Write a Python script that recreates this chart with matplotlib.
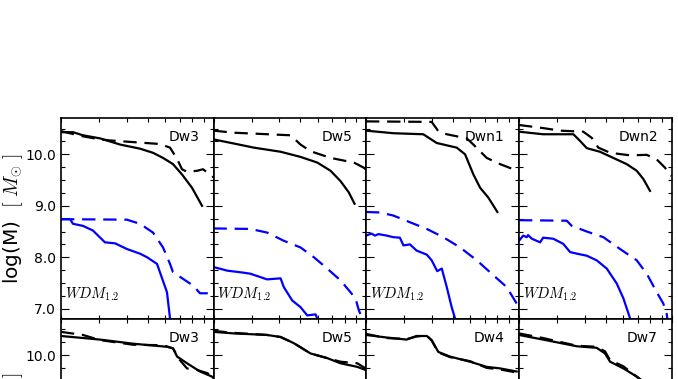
import matplotlib
matplotlib.use("Agg")
import matplotlib.pyplot as plt
from matplotlib.ticker import MultipleLocator, FixedLocator, NullFormatter, NullLocator, FuncFormatter

plt.rcParams['mathtext.fontset'] = 'cm'
plt.rcParams['xtick.direction'] = 'in'
plt.rcParams['ytick.direction'] = 'in'
plt.rcParams['xtick.top'] = True
plt.rcParams['ytick.right'] = True
plt.rcParams['font.size'] = 10

# ---- top row (CDM black, WDM_1.2 blue; solid / dashed) ----
top_names = ["Dw3", "Dw5", "Dwn1", "Dwn2"]

dw3_k_x = [2.0, 2.27, 2.52, 3.02, 3.73, 4.60, 5.28, 5.87, 6.52, 7.17, 7.97, 8.86]
dw3_k_y = [10.43, 10.43, 10.37, 10.31, 10.19, 10.11, 10.03, 9.93, 9.81, 9.61, 9.35, 9.00]
dw3_kd_x = [2.0, 2.52, 3.02, 3.35, 5.69, 6.32, 6.81, 7.17, 7.56, 8.41, 8.95, 9.85, 10.0]
dw3_kd_y = [10.45, 10.35, 10.29, 10.27, 10.20, 10.13, 9.91, 9.71, 9.66, 9.68, 9.71, 9.58, 9.55]
dw3_b_x = [2.0, 2.20, 2.27, 2.52, 2.80, 3.18, 3.54, 4.01, 4.60, 4.96, 5.51, 6.12, 6.32, 6.36]
dw3_b_y = [8.74, 8.74, 8.65, 8.61, 8.52, 8.29, 8.27, 8.16, 8.07, 8.00, 7.87, 7.32, 6.81, 6.6]
dw3_bd_x = [2.0, 4.01, 4.60, 5.28, 5.87, 6.32, 6.52, 7.25, 8.06, 8.67, 10.0]
dw3_bd_y = [8.74, 8.73, 8.65, 8.48, 8.19, 7.87, 7.71, 7.58, 7.45, 7.30, 7.30]

dw5_k_x = [2.0, 2.48, 3.06, 4.06, 5.01, 5.98, 6.88, 7.64, 8.34, 8.86]
dw5_k_y = [10.29, 10.21, 10.13, 10.05, 9.95, 9.84, 9.68, 9.48, 9.26, 9.04]
dw5_kd_x = [2.0, 2.48, 4.51, 5.01, 5.57, 6.88, 8.80, 9.77, 10.0]
dw5_kd_y = [10.46, 10.42, 10.37, 10.19, 10.06, 9.93, 9.84, 9.74, 9.70]
dw5_b_x = [2.0, 2.31, 2.75, 2.95, 3.52, 4.06, 4.20, 4.59, 5.01, 5.38, 5.87, 5.98, 6.02]
dw5_b_y = [7.81, 7.74, 7.70, 7.68, 7.57, 7.59, 7.42, 7.16, 7.03, 6.87, 6.89, 6.81, 6.6]
dw5_bd_x = [2.0, 2.95, 3.52, 4.20, 5.01, 5.77, 6.64, 7.64, 8.49, 8.95, 9.27, 9.61, 9.7]
dw5_bd_y = [8.56, 8.55, 8.48, 8.32, 8.19, 8.00, 7.78, 7.55, 7.32, 7.20, 6.97, 6.81, 6.6]

dwn1_k_x = [2.0, 2.67, 3.66, 4.22, 5.21, 5.69, 6.21, 6.67, 7.27, 8.00]
dwn1_k_y = [10.46, 10.41, 10.39, 10.22, 10.13, 10.00, 9.61, 9.35, 9.16, 8.88]
dwn1_kd_x = [2.0, 4.00, 4.29, 4.69, 5.79, 6.21, 7.15, 8.23, 9.47, 10.0]
dwn1_kd_y = [10.64, 10.63, 10.45, 10.39, 10.31, 10.19, 9.93, 9.81, 9.71, 9.68]
dwn1_b_x = [2.0, 2.12, 2.20, 2.28, 2.49, 2.67, 2.86, 2.97, 3.18, 3.41, 3.80, 4.00, 4.24,
            4.45, 4.69, 4.94, 5.12, 5.18]
dwn1_b_y = [8.42, 8.46, 8.42, 8.45, 8.42, 8.39, 8.38, 8.23, 8.25, 8.13, 8.05, 7.94, 7.73,
            7.78, 7.42, 7.03, 6.81, 6.6]
dwn1_bd_x = [2.0, 2.32, 2.67, 3.18, 3.80, 4.52, 5.40, 6.44, 7.67, 8.83, 9.81, 10.0]
dwn1_bd_y = [8.88, 8.87, 8.81, 8.68, 8.55, 8.39, 8.19, 7.94, 7.65, 7.42, 7.10, 7.05]

dwn2_k_x = [2.0, 2.58, 3.55, 3.81, 4.09, 4.70, 5.41, 6.23, 6.93, 7.43, 7.97]
dwn2_k_y = [10.44, 10.39, 10.39, 10.26, 10.12, 10.05, 9.93, 9.81, 9.68, 9.52, 9.29]
dwn2_kd_x = [2.0, 2.58, 3.08, 3.94, 4.31, 4.62, 5.23, 6.46, 7.70, 8.56, 9.34, 9.78, 10.0]
dwn2_kd_y = [10.57, 10.51, 10.46, 10.44, 10.32, 10.13, 10.03, 9.98, 9.99, 9.90, 9.74, 9.62, 9.58]
dwn2_b_x = [2.0, 2.09, 2.17, 2.20, 2.29, 2.50, 2.58, 2.87, 3.19, 3.43, 3.68, 4.09, 4.54,
            5.05, 5.61, 6.02, 6.46, 6.55]
dwn2_b_y = [8.32, 8.42, 8.39, 8.43, 8.36, 8.29, 8.38, 8.36, 8.26, 8.10, 8.07, 8.03, 7.94,
            7.78, 7.49, 7.20, 6.81, 6.6]
dwn2_bd_x = [2.0, 3.31, 3.49, 4.09, 4.87, 5.81, 6.93, 7.70, 8.56, 9.17, 9.51, 9.62]
dwn2_bd_y = [8.72, 8.71, 8.61, 8.50, 8.39, 8.16, 7.94, 7.68, 7.32, 7.10, 6.90, 6.7]

# ---- bottom row (only the upper part is in view) ----
bot_names = ["Dw3", "Dw5", "Dw4", "Dw7"]

b_dw3_x = [2.0, 3.02, 4.28, 6.12, 6.52, 6.81, 7.56, 8.67, 9.85, 10.0]
b_dw3_y = [10.37, 10.30, 10.22, 10.16, 10.13, 9.97, 9.84, 9.68, 9.58, 9.55]
b_dw3_dx = [2.0, 2.52, 3.02, 4.28, 5.87, 6.52, 7.02, 7.56, 8.41, 9.34, 10.0]
b_dw3_dy = [10.45, 10.39, 10.29, 10.20, 10.19, 10.13, 9.90, 9.74, 9.71, 9.65, 9.58]

b_dw5_x = [2.0, 2.48, 3.52, 4.06, 4.67, 5.57, 6.64, 7.64, 9.12, 9.95]
b_dw5_y = [10.45, 10.42, 10.39, 10.35, 10.23, 10.03, 9.94, 9.84, 9.77, 9.71]
b_dw5_dy = [10.47, 10.43, 10.39, 10.35, 10.23, 10.03, 9.94, 9.87, 9.84, 9.74]

b_dw4_x = [2.0, 2.49, 3.07, 3.41, 3.80, 4.00, 4.29, 4.85, 6.00, 7.15, 8.23, 9.81]
b_dw4_y = [10.39, 10.34, 10.30, 10.37, 10.37, 10.29, 10.06, 9.97, 9.87, 9.77, 9.74, 9.68]
b_dw4_dy = [10.41, 10.33, 10.31, 10.36, 10.38, 10.28, 10.05, 9.96, 9.88, 9.75, 9.72, 9.66]

b_dw7_x = [2.0, 2.58, 3.68, 4.54, 4.96, 5.23, 6.02, 6.93, 7.43]
b_dw7_y = [10.39, 10.30, 10.17, 10.14, 10.03, 9.87, 9.74, 9.58, 9.48]
b_dw7_dy = [10.42, 10.33, 10.18, 10.16, 10.07, 9.90, 9.78, 9.58, 9.48]

top_lines = [
    (dw3_k_x, dw3_k_y, dw3_kd_x, dw3_kd_y, dw3_b_x, dw3_b_y, dw3_bd_x, dw3_bd_y),
    (dw5_k_x, dw5_k_y, dw5_kd_x, dw5_kd_y, dw5_b_x, dw5_b_y, dw5_bd_x, dw5_bd_y),
    (dwn1_k_x, dwn1_k_y, dwn1_kd_x, dwn1_kd_y, dwn1_b_x, dwn1_b_y, dwn1_bd_x, dwn1_bd_y),
    (dwn2_k_x, dwn2_k_y, dwn2_kd_x, dwn2_kd_y, dwn2_b_x, dwn2_b_y, dwn2_bd_x, dwn2_bd_y),
]
bot_lines = [
    (b_dw3_x, b_dw3_y, b_dw3_dx, b_dw3_dy),
    (b_dw5_x, b_dw5_y, b_dw5_x, b_dw5_dy),
    (b_dw4_x, b_dw4_y, b_dw4_x, b_dw4_dy),
    (b_dw7_x, b_dw7_y, b_dw7_x, b_dw7_dy),
]

W, H = 678.0, 379.0
fig = plt.figure(figsize=(6.78, 3.79), dpi=100)

lefts = [61, 213.5, 366, 519]
pw = 152.5
ph = 200.7
top_y0 = H - 319.0
DASH = (6, 3.5)


def style_axes(ax, first, lowest_label):
    ax.set_xscale('log')
    ax.set_xlim(2, 10)
    ax.set_ylim(6.8, 10.7)
    ax.xaxis.set_major_locator(FixedLocator([2, 3, 4, 5, 6, 7, 8, 9, 10]))
    ax.xaxis.set_minor_locator(NullLocator())
    ax.xaxis.set_major_formatter(NullFormatter())
    ax.xaxis.set_minor_formatter(NullFormatter())
    ax.yaxis.set_major_locator(MultipleLocator(1.0))
    ax.yaxis.set_minor_locator(MultipleLocator(0.25))
    ax.tick_params(axis='x', which='major', length=3, width=0.8)
    ax.tick_params(axis='y', which='major', length=6, width=0.8, labelsize=10)
    ax.tick_params(axis='y', which='minor', length=3, width=0.8)
    if not first:
        ax.yaxis.set_major_formatter(NullFormatter())
    else:
        ax.yaxis.set_major_formatter(
            FuncFormatter(lambda v, p: '%.1f' % v if v >= lowest_label else ''))
    for s in ax.spines.values():
        s.set_linewidth(1.2)


for i in range(4):
    ax = fig.add_axes([lefts[i] / W, top_y0 / H, pw / W, ph / H])
    style_axes(ax, i == 0, 6.9)
    kx, ky, kdx, kdy, bx, by, bdx, bdy = top_lines[i]
    ax.plot(kx, ky, color='k', lw=1.6)
    ax.plot(kdx, kdy, color='k', lw=1.6, dashes=DASH)
    ax.plot(bx, by, color='b', lw=1.6)
    ax.plot(bdx, bdy, color='b', lw=1.6, dashes=DASH)
    ax.text(0.91, 0.905, top_names[i], transform=ax.transAxes, ha='right', va='center',
            fontsize=10)
    ax.text(0.025, 0.10, r'$WDM_{1.2}$', transform=ax.transAxes, ha='left', va='baseline',
            fontsize=10.5)

for i in range(4):
    ax = fig.add_axes([lefts[i] / W, (top_y0 - ph) / H, pw / W, ph / H])
    style_axes(ax, i == 0, 9.9)
    sx, sy, dx, dy = bot_lines[i]
    ax.plot(sx, sy, color='k', lw=1.6)
    ax.plot(dx, dy, color='k', lw=1.6, dashes=DASH)
    ax.text(0.91, 0.905, bot_names[i], transform=ax.transAxes, ha='right', va='center',
            fontsize=10)

ylab = r'log(M) $\ [\ M_{\odot}\ ]$'
fig.text(13 / W, 1 - 219 / H, ylab, rotation=90, ha='center', va='center', fontsize=14.5)
fig.text(13 / W, 1 - 438 / H, ylab, rotation=90, ha='center', va='center', fontsize=14.5)

fig.savefig("out.png", dpi=100, facecolor='white')
